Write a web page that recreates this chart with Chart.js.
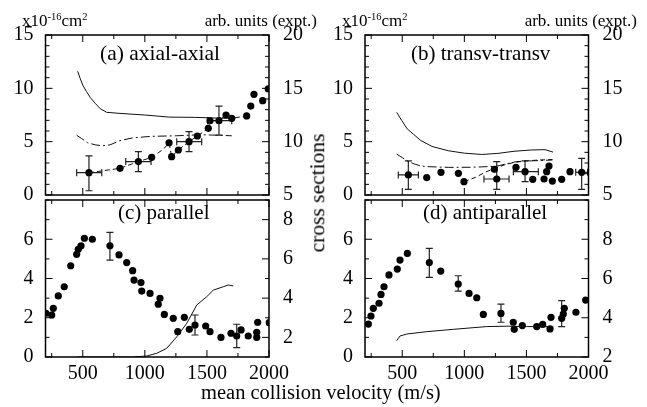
<!DOCTYPE html>
<html><head><meta charset="utf-8">
<script src="https://cdn.jsdelivr.net/npm/chart.js@4.4.0/dist/chart.umd.min.js"></script>
<style>
html,body{margin:0;padding:0;background:#fff;}
#wrap{position:relative;width:647px;height:407px;overflow:hidden;font-family:"Liberation Serif","Times New Roman",serif;color:#000;background:#fff;}
canvas{position:absolute;left:0;top:0;}
.t{position:absolute;white-space:nowrap;line-height:1;}
.sup{font-size:0.62em;position:relative;top:-0.6em;}
</style></head><body>
<div id="wrap">
<canvas id="ca" width="647" height="407"></canvas>
<canvas id="cb" width="647" height="407"></canvas>
<canvas id="cc" width="647" height="407"></canvas>
<canvas id="cd" width="647" height="407"></canvas>
<div class="t" style="left:22px;top:12px;font-size:17px;">x10<span class="sup">-16</span>cm<span class="sup">2</span></div>
<div class="t" style="left:342px;top:12px;font-size:17px;">x10<span class="sup">-16</span>cm<span class="sup">2</span></div>
<div class="t" style="right:330px;top:12px;font-size:17px;">arb. units (expt.)</div>
<div class="t" style="right:10px;top:12px;font-size:17px;">arb. units (expt.)</div>
<div class="t" style="left:100px;top:43px;font-size:21.5px;">(a) axial-axial</div>
<div class="t" style="left:411px;top:43px;font-size:21px;">(b) transv-transv</div>
<div class="t" style="left:118px;top:202px;font-size:21px;">(c) parallel</div>
<div class="t" style="left:423px;top:202px;font-size:21px;">(d) antiparallel</div>
<div class="t" style="left:318px;top:193px;font-size:21.5px;transform:translate(-50%,-50%) rotate(-90deg);">cross sections</div>
<div class="t" style="left:201px;top:382px;font-size:20.5px;">mean collision velocity (m/s)</div>
</div>
<script>
// ---------- data ----------
const xTicks = [500, 1000, 1500, 2000];
const topLeftTicks = [0, 5, 10, 15];
const topRightTicks = [5, 10, 15, 20];
const botLeftTicks = [0, 2, 4, 6];
const cRightTicks = [2, 4, 6, 8];
const dRightTicks = [2, 4, 6, 8];

// (a) axial-axial
const aSolidV = [459,480,500,530,560,600,640,693,800,1000,1200,1400,1600,1700];
const aSolidY = [11.6,10.9,10.3,9.7,9.15,8.6,8.1,7.75,7.65,7.5,7.3,7.28,7.2,7.2];
const aDashDotV = [451,490,540,600,660,720,800,900,1050,1250,1450,1600,1700];
const aDashDotY = [5.6,5.3,4.9,4.7,4.62,4.7,5.1,5.35,5.5,5.55,5.65,5.6,5.55];
const aDashedV = [550,800,948,1055,1150,1195,1216,1270,1356,1423,1511,1525,1597,1654,1700,1820];
const aDashedY = [2.09,2.5,3.13,3.53,4.3,4.9,3.59,4.22,5.0,5.53,6.25,6.97,6.97,7.5,7.19,7.41];
const aExpV = [550,800,948,1055,1195,1216,1270,1356,1423,1511,1525,1597,1654,1700,1820,1853,1879,1949,1994];
const aExpY = [7.09,7.5,8.13,8.53,9.9,8.59,9.22,10.0,10.53,11.25,11.97,11.97,12.5,12.19,12.41,13.34,14.44,13.84,14.94];
const aErrV = [550,948,1356,1597];
const aErrY = [7.09,8.13,10.0,11.97];
const aErrLo = [5.4,7.19,9.06,10.62];
const aErrHi = [8.66,9.06,10.94,13.34];
const aErrXLo = [451,846,1257,1505];
const aErrXHi = [653,1050,1458,1700];

// (b) transv-transv
const bSolidV = [455,495,540,590,650,740,870,1000,1140,1270,1400,1540,1650,1715];
const bSolidY = [7.75,7.0,6.2,5.7,5.1,4.55,4.15,3.92,3.8,3.9,4.1,4.22,4.25,4.02];
const bDashDotV = [455,500,550,600,650,700,870,1050,1150,1260,1350,1420,1540,1710];
const bDashDotY = [3.84,3.5,3.13,2.9,2.72,2.66,2.59,2.6,2.64,2.7,2.95,3.13,3.2,3.28];
const bDashedV = [997,1090,1170,1260,1330,1400,1500,1600,1710];
const bDashedY = [1.25,1.65,2.15,2.55,2.85,3.05,3.2,3.28,3.33];
const bExpV = [549,697,812,952,997,1242,1261,1416,1489,1551,1642,1663,1682,1709,1784,1851,1945];
const bExpY = [6.88,6.63,7.13,7.03,6.25,7.41,6.5,7.59,7.19,6.47,6.5,7.19,7.72,6.31,6.47,7.19,7.13];
const bErrV = [549,1261,1489,1945];
const bErrY = [6.88,6.5,7.19,7.13];
const bErrLo = [5.53,5.53,6.25,5.53];
const bErrHi = [8.19,8.13,8.19,8.44];
const bErrXLo = [468,1158,1395,1897];
const bErrXHi = [630,1360,1596,1993];

// (c) parallel
const cSolidV = [450,700,900,1015,1096,1176,1257,1337,1418,1498,1552,1632,1672,1712];
const cSolidY = [0,0,0,0.05,0.19,0.44,1.03,1.71,2.65,3.07,3.41,3.58,3.67,3.62];
const cExpV = [204,250,263,303,351,403,451,464,486,513,577,719,792,854,902,913,969,975,1042,1108,1122,1157,1229,1265,1318,1358,1404,1490,1525,1613,1694,1740,1775,1833,1901,1901,1909,2002];
const cExpY = [3.23,3.14,3.48,4.11,4.58,5.65,6.23,6.49,6.67,7.05,7.0,6.67,6.2,5.81,5.4,4.92,4.79,4.36,4.24,3.69,3.99,3.17,2.97,2.29,3.02,2.41,2.63,2.58,2.29,2.0,2.21,2.07,2.38,2.07,2.26,2.0,2.77,2.75];
const cErrV = [719,1404,1740];
const cErrLo = [5.94,2.12,1.48];
const cErrHi = [7.35,3.14,2.67];

// (d) antiparallel
const dSolidV = [455,482,536,697,911,1180,1341,1502,1717];
const dSolidY = [0.83,1.07,1.17,1.29,1.41,1.55,1.57,1.55,1.55];
const dExpV = [227,248,267,313,329,353,393,460,482,541,718,810,951,1038,1100,1153,1295,1394,1402,1467,1583,1631,1690,1698,1784,1797,1805,1899,1977];
const dExpY = [3.68,4.09,4.48,4.74,5.19,5.58,6.18,6.48,6.94,7.28,6.81,6.38,5.72,5.24,5.02,4.17,4.22,3.77,3.41,3.6,3.55,3.66,3.43,4.02,3.97,4.19,4.48,4.28,4.9];
const dErrV = [718,951,1295,1784];
const dErrLo = [6.06,5.36,3.77,3.55];
const dErrHi = [7.54,6.14,4.69,4.87];

// ---------- helpers ----------
Chart.defaults.font.family = "'Liberation Serif','Times New Roman',serif";
Chart.defaults.font.size = 20;
Chart.defaults.color = '#000';

const pts = (xs, ys) => xs.map((x, i) => ({x: x, y: ys[i]}));
const lineDs = (xs, ys, dash) => ({data: pts(xs, ys), showLine: true, borderColor: '#111', borderWidth: 1,
  borderDash: dash, pointRadius: 0, yAxisID: 'y', tension: 0});
const expDs = (xs, ys) => ({data: pts(xs, ys), showLine: false, pointRadius: 3.6, pointBorderWidth: 0,
  backgroundColor: '#000', borderColor: '#000', yAxisID: 'y2'});

function makeErr(e) {
  return {
    id: 'errbars',
    beforeDatasetsDraw(chart) {
      if (!e) return;
      const ctx = chart.ctx, sx = chart.scales.x, sy = chart.scales.y2;
      ctx.save();
      ctx.strokeStyle = '#222'; ctx.lineWidth = 1.2;
      ctx.beginPath();
      e.v.forEach((v, i) => {
        const px = sx.getPixelForValue(v);
        const p1 = sy.getPixelForValue(e.lo[i]), p2 = sy.getPixelForValue(e.hi[i]);
        ctx.moveTo(px, p1); ctx.lineTo(px, p2);
        ctx.moveTo(px - 3.5, p1); ctx.lineTo(px + 3.5, p1);
        ctx.moveTo(px - 3.5, p2); ctx.lineTo(px + 3.5, p2);
        if (e.xlo) {
          const py = sy.getPixelForValue(e.y[i]);
          const q1 = sx.getPixelForValue(e.xlo[i]), q2 = sx.getPixelForValue(e.xhi[i]);
          ctx.moveTo(q1, py); ctx.lineTo(q2, py);
          ctx.moveTo(q1, py - 3.5); ctx.lineTo(q1, py + 3.5);
          ctx.moveTo(q2, py - 3.5); ctx.lineTo(q2, py + 3.5);
        }
      });
      ctx.stroke();
      ctx.restore();
    }
  };
}

function makeFrame(cfg) {
  return {
    id: 'frame',
    afterDraw(chart) {
      const ctx = chart.ctx, a = chart.chartArea;
      const sx = chart.scales.x, sy = chart.scales.y, sy2 = chart.scales.y2;
      const L = a.left, R = a.right, T = a.top, B = a.bottom;
      const MAJ = 7, MIN = 4;
      ctx.save();
      ctx.strokeStyle = '#000'; ctx.lineWidth = 1;
      ctx.beginPath();
      const xm = sx.ticks.map(t => t.value);
      for (let v = Math.ceil(sx.min / cfg.xMinor) * cfg.xMinor; v <= sx.max; v += cfg.xMinor) {
        const p = sx.getPixelForValue(v), len = xm.includes(v) ? MAJ : MIN;
        ctx.moveTo(p, B); ctx.lineTo(p, B - len);
        ctx.moveTo(p, T); ctx.lineTo(p, T + len);
      }
      const ym = sy.ticks.map(t => t.value);
      for (let v = Math.ceil(sy.min / cfg.yMinor) * cfg.yMinor; v <= sy.max + 1e-9; v += cfg.yMinor) {
        const p = sy.getPixelForValue(v), len = ym.includes(v) ? MAJ : MIN;
        ctx.moveTo(L, p); ctx.lineTo(L + len, p);
      }
      const y2m = sy2.ticks.map(t => t.value);
      for (let v = Math.ceil(sy2.min / cfg.yMinor) * cfg.yMinor; v <= sy2.max + 1e-9; v += cfg.yMinor) {
        const p = sy2.getPixelForValue(v), len = y2m.includes(v) ? MAJ : MIN;
        ctx.moveTo(R, p); ctx.lineTo(R - len, p);
      }
      ctx.stroke();
      ctx.lineWidth = 1.5;
      ctx.strokeRect(L, T, R - L, B - T);
      ctx.restore();
    }
  };
}

function makeChart(id, area, cfg) {
  const W = 647, H = 407;
  const xH = cfg.showX ? H - area.b : 0;
  return new Chart(document.getElementById(id), {
    type: 'scatter',
    data: {datasets: cfg.datasets},
    options: {
      responsive: false, animation: false, events: [],
      layout: {padding: {left: 0, top: area.t, right: 0, bottom: H - area.b - xH}},
      plugins: {legend: {display: false}, tooltip: {enabled: false}},
      scales: {
        x: {type: 'linear', position: 'bottom', min: 200, max: 2000,
          afterBuildTicks: s => { s.ticks = xTicks.map(v => ({value: v})); },
          afterFit: s => { s.height = xH; s.paddingLeft = 0; s.paddingRight = 0; },
          ticks: {display: cfg.showX, padding: 5, autoSkip: false, maxRotation: 0, callback: v => String(v)},
          grid: {display: false, drawTicks: false}, border: {display: false}},
        y: {type: 'linear', position: 'left', min: cfg.yMin, max: cfg.yMax,
          afterBuildTicks: s => { s.ticks = cfg.yTicks.map(v => ({value: v})); },
          afterFit: s => { s.width = area.l; s.paddingTop = 0; s.paddingBottom = 0; },
          ticks: {padding: 12, autoSkip: false, callback: v => String(v)},
          grid: {display: false, drawTicks: false}, border: {display: false}},
        y2: {type: 'linear', position: 'right', min: cfg.y2Min, max: cfg.y2Max,
          afterBuildTicks: s => { s.ticks = cfg.y2Ticks.map(v => ({value: v})); },
          afterFit: s => { s.width = W - area.r; s.paddingTop = 0; s.paddingBottom = 0; },
          ticks: {padding: 14, autoSkip: false, callback: v => String(v)},
          grid: {display: false, drawTicks: false}, border: {display: false}}
      }
    },
    plugins: [makeErr(cfg.err), makeFrame(cfg)]
  });
}

makeChart('ca', {l: 45.5, t: 35, r: 269, b: 195}, {
  showX: false, yMin: 0, yMax: 15, y2Min: 5, y2Max: 20, yTicks: topLeftTicks, y2Ticks: topRightTicks,
  yMinor: 1, xMinor: 250,
  datasets: [lineDs(aSolidV, aSolidY, []), lineDs(aDashDotV, aDashDotY, [9, 3, 2, 3]),
             lineDs(aDashedV, aDashedY, [5, 3]), expDs(aExpV, aExpY)],
  err: {v: aErrV, y: aErrY, lo: aErrLo, hi: aErrHi, xlo: aErrXLo, xhi: aErrXHi}
});
makeChart('cb', {l: 365, t: 35, r: 588.5, b: 195}, {
  showX: false, yMin: 0, yMax: 15, y2Min: 5, y2Max: 20, yTicks: topLeftTicks, y2Ticks: topRightTicks,
  yMinor: 1, xMinor: 250,
  datasets: [lineDs(bSolidV, bSolidY, []), lineDs(bDashDotV, bDashDotY, [9, 3, 2, 3]),
             lineDs(bDashedV, bDashedY, [5, 3]), expDs(bExpV, bExpY)],
  err: {v: bErrV, y: bErrY, lo: bErrLo, hi: bErrHi, xlo: bErrXLo, xhi: bErrXHi}
});
makeChart('cc', {l: 45.5, t: 200, r: 269, b: 357}, {
  showX: true, yMin: 0, yMax: 8, y2Min: 1, y2Max: 9, yTicks: botLeftTicks, y2Ticks: cRightTicks,
  yMinor: 1, xMinor: 250,
  datasets: [lineDs(cSolidV, cSolidY, []), expDs(cExpV, cExpY)],
  err: {v: cErrV, lo: cErrLo, hi: cErrHi}
});
makeChart('cd', {l: 365, t: 200, r: 588.5, b: 357}, {
  showX: true, yMin: 0, yMax: 8, y2Min: 2, y2Max: 10, yTicks: botLeftTicks, y2Ticks: dRightTicks,
  yMinor: 1, xMinor: 250,
  datasets: [lineDs(dSolidV, dSolidY, []), expDs(dExpV, dExpY)],
  err: {v: dErrV, lo: dErrLo, hi: dErrHi}
});
</script>
</body></html>
